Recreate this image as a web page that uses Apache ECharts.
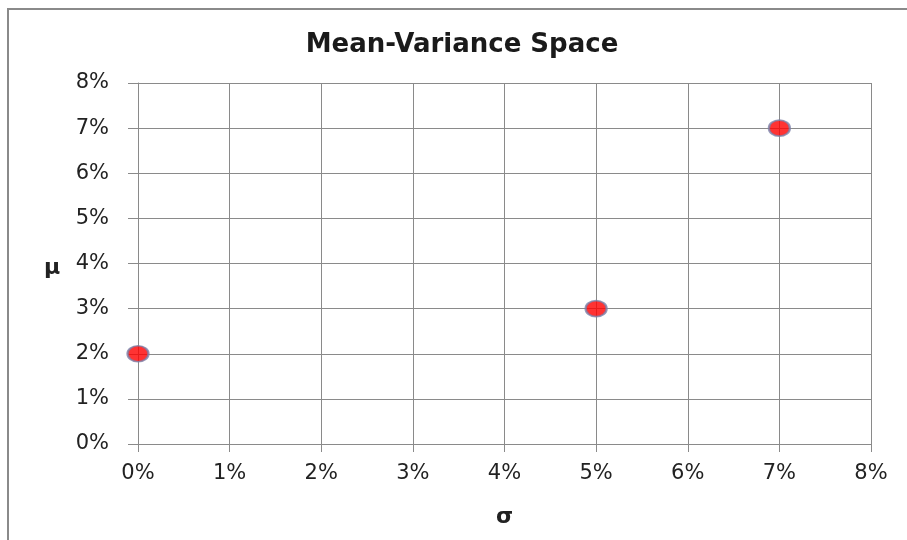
<!DOCTYPE html>
<html><head><meta charset="utf-8">
<script src="https://cdn.jsdelivr.net/npm/echarts@6/dist/echarts.min.js"></script>
<style>html,body{margin:0;padding:0;background:#fff}#c{width:907px;height:540px}</style>
</head><body><div id="c"></div>
<script>
const title = 'Mean-Variance Space';
const xName = 'σ';
const yName = 'μ';
const sigma = [0, 5, 7];
const mu = [2, 3, 7];
const axisMin = 0, axisMax = 8, axisStep = 1;

const chart = echarts.init(document.getElementById('c'));
const font = '"DejaVu Sans", Verdana, sans-serif';
chart.setOption({
  animation: false,
  backgroundColor: '#fff',
  graphic: [{
    type: 'rect', shape: {x: 8, y: 9, width: 1200, height: 1200},
    style: {fill: 'none', stroke: '#8a8a8a', lineWidth: 2}, silent: true
  }, {
    type: 'text', x: 52, y: 268,
    style: {text: yName, font: 'bold 22px ' + font, fill: '#222', align: 'center', verticalAlign: 'middle'}
  }, {
    type: 'text', x: 462, y: 45,
    style: {text: title, font: 'bold 26px ' + font, fill: '#1a1a1a', align: 'center', verticalAlign: 'middle'}
  }],
  grid: {left: 138, top: 83, right: 36, bottom: 96, containLabel: false},
  xAxis: {
    type: 'value', min: axisMin, max: axisMax, interval: axisStep,
    name: xName, nameLocation: 'middle', nameGap: 62,
    nameTextStyle: {fontFamily: font, fontSize: 22, fontWeight: 'bold', color: '#222'},
    axisLine: {show: true, lineStyle: {color: '#8a8a8a', width: 1}},
    axisTick: {show: true, inside: false, length: 8, lineStyle: {color: '#8a8a8a'}},
    axisLabel: {formatter: '{value}%', margin: 19, fontFamily: font, fontSize: 21, color: '#222'},
    splitLine: {show: true, lineStyle: {color: '#8a8a8a', width: 1}}
  },
  yAxis: {
    type: 'value', min: axisMin, max: axisMax, interval: axisStep,
    axisLine: {show: true, lineStyle: {color: '#8a8a8a', width: 1}},
    axisTick: {show: true, inside: false, length: 10, lineStyle: {color: '#8a8a8a'}},
    axisLabel: {formatter: '{value}%', margin: 29, fontFamily: font, fontSize: 21, color: '#222'},
    splitLine: {show: true, lineStyle: {color: '#8a8a8a', width: 1}}
  },
  series: [{
    type: 'scatter',
    data: sigma.map((s, i) => [s, mu[i]]),
    symbol: 'circle', symbolSize: [21, 16],
    itemStyle: {color: '#ff0000', borderColor: '#7b7fa8', borderWidth: 2},
    z: 10
  }]
});
</script></body></html>
